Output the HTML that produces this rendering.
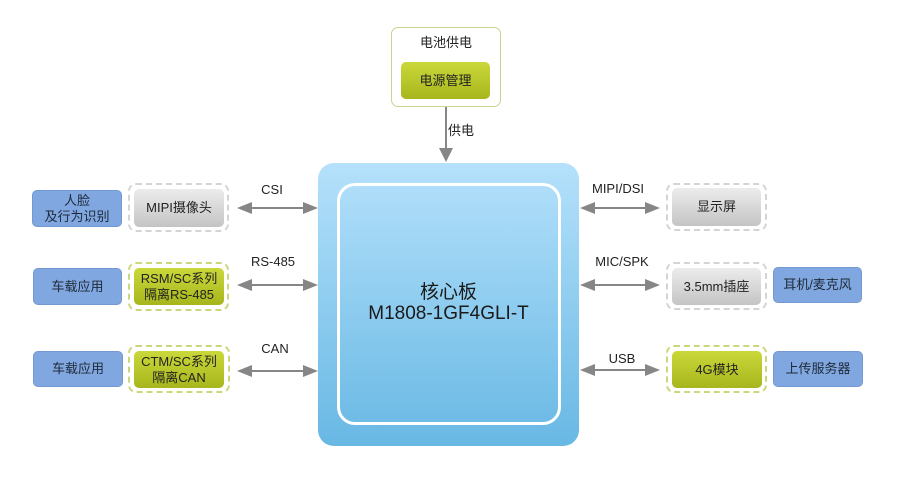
<!DOCTYPE html>
<html><head><meta charset="utf-8">
<style>
*{margin:0;padding:0;box-sizing:border-box}
body{width:900px;height:480px;background:#fff;position:relative;overflow:hidden;font-family:"Liberation Sans","Noto Sans CJK SC",sans-serif;color:#222}
.a{position:absolute}
.c{display:flex;align-items:center;justify-content:center;text-align:center;line-height:16px;font-size:13px}
.blue{background:#80a7df;border:1px solid #7399d3;border-radius:5px;color:#1e2a3a}
.gray{background:linear-gradient(#ececec,#c4c4c4);border-radius:5px;color:#222}
.green{background:linear-gradient(#cad83a,#a7b61c);border-radius:5px;color:#222}
.dg{border:2px dashed #d4d4d4;border-radius:8px}
.dy{border:2px dashed #cbd77a;border-radius:8px}
.lbl{font-size:13px;color:#222;text-align:center}
</style></head><body>
<svg class="a" style="left:0;top:0" width="900" height="480">
<g stroke="#868686" stroke-width="2" fill="#868686">
<line x1="446" y1="107" x2="446" y2="150"/><polygon points="439,148 453,148 446,162" stroke="none"/>
<line x1="250" y1="208" x2="305" y2="208"/><polygon points="237,208 252,202 252,214" stroke="none"/><polygon points="318,208 303,202 303,214" stroke="none"/>
<line x1="250" y1="285" x2="305" y2="285"/><polygon points="237,285 252,279 252,291" stroke="none"/><polygon points="318,285 303,279 303,291" stroke="none"/>
<line x1="250" y1="371" x2="305" y2="371"/><polygon points="237,371 252,365 252,377" stroke="none"/><polygon points="318,371 303,365 303,377" stroke="none"/>
<line x1="593" y1="208" x2="647" y2="208"/><polygon points="580,208 595,202 595,214" stroke="none"/><polygon points="660,208 645,202 645,214" stroke="none"/>
<line x1="593" y1="285" x2="647" y2="285"/><polygon points="580,285 595,279 595,291" stroke="none"/><polygon points="660,285 645,279 645,291" stroke="none"/>
<line x1="593" y1="370" x2="647" y2="370"/><polygon points="580,370 595,364 595,376" stroke="none"/><polygon points="660,370 645,364 645,376" stroke="none"/>
</g>
</svg>

<!-- top power box -->
<div class="a" style="left:391px;top:27px;width:110px;height:80px;border:1.5px solid #c9d48e;border-radius:7px;background:#fff"></div>
<div class="a lbl" style="left:391px;top:32px;width:110px">电池供电</div>
<div class="a c green" style="left:401px;top:62px;width:89px;height:37px">电源管理</div>
<div class="a lbl" style="left:448px;top:120px">供电</div>

<!-- main board -->
<div class="a" style="left:318px;top:163px;width:261px;height:283px;border-radius:16px;background:linear-gradient(#b5e1fb,#68b8e4)"></div>
<div class="a" style="left:337px;top:183px;width:224px;height:242px;border:3px solid #fff;border-radius:18px"></div>
<div class="a" style="left:318px;top:282px;width:261px;text-align:center;font-size:19px;line-height:21px;color:#1a1a1a">核心板<br>M1808-1GF4GLI-T</div>

<!-- left row 1 -->
<div class="a c blue" style="left:32px;top:190px;width:90px;height:37px">人脸<br>及行为识别</div>
<div class="a dg" style="left:128px;top:183px;width:101px;height:49px"></div>
<div class="a c gray" style="left:134px;top:189px;width:90px;height:38px">MIPI摄像头</div>
<div class="a lbl" style="left:252px;top:182px;width:40px">CSI</div>

<!-- left row 2 -->
<div class="a c blue" style="left:33px;top:268px;width:89px;height:37px">车载应用</div>
<div class="a dy" style="left:128px;top:262px;width:101px;height:49px"></div>
<div class="a c green" style="left:134px;top:268px;width:90px;height:37px">RSM/SC系列<br>隔离RS-485</div>
<div class="a lbl" style="left:248px;top:254px;width:50px">RS-485</div>

<!-- left row 3 -->
<div class="a c blue" style="left:33px;top:351px;width:90px;height:36px">车载应用</div>
<div class="a dy" style="left:128px;top:345px;width:102px;height:48px"></div>
<div class="a c green" style="left:134px;top:351px;width:90px;height:37px">CTM/SC系列<br>隔离CAN</div>
<div class="a lbl" style="left:255px;top:341px;width:40px">CAN</div>

<!-- right row 1 -->
<div class="a lbl" style="left:588px;top:181px;width:60px">MIPI/DSI</div>
<div class="a dg" style="left:666px;top:183px;width:101px;height:48px"></div>
<div class="a c gray" style="left:672px;top:188px;width:89px;height:38px">显示屏</div>

<!-- right row 2 -->
<div class="a lbl" style="left:592px;top:254px;width:60px">MIC/SPK</div>
<div class="a dg" style="left:666px;top:262px;width:101px;height:48px"></div>
<div class="a c gray" style="left:672px;top:268px;width:89px;height:37px">3.5mm插座</div>
<div class="a c blue" style="left:773px;top:267px;width:89px;height:36px">耳机/麦克风</div>

<!-- right row 3 -->
<div class="a lbl" style="left:602px;top:351px;width:40px">USB</div>
<div class="a dy" style="left:666px;top:345px;width:101px;height:48px"></div>
<div class="a c green" style="left:672px;top:351px;width:90px;height:37px">4G模块</div>
<div class="a c blue" style="left:773px;top:351px;width:90px;height:36px">上传服务器</div>
</body></html>
